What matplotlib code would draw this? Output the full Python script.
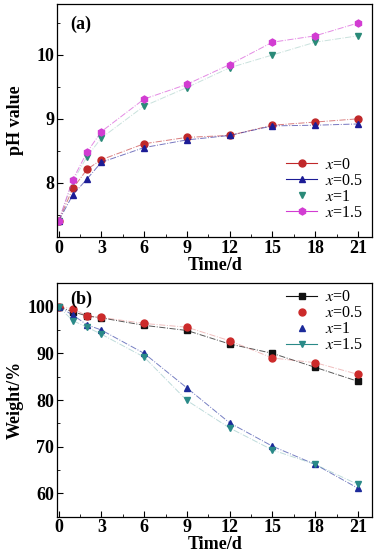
import matplotlib
matplotlib.use("Agg")
import matplotlib.pyplot as plt
from matplotlib.ticker import MultipleLocator

plt.rcParams['font.family'] = ['Liberation Serif', 'DejaVu Serif']
plt.rcParams['mathtext.fontset'] = 'stix'

days = [0, 1, 2, 3, 6, 9, 12, 15, 18, 21]

ph_labels = ['x=0', 'x=0.5', 'x=1', 'x=1.5']
ph_x0 = [7.4, 7.91, 8.21, 8.36, 8.61, 8.71, 8.74, 8.90, 8.95, 9.0]
ph_x05 = [7.4, 7.81, 8.06, 8.32, 8.55, 8.67, 8.74, 8.89, 8.90, 8.92]
ph_x1 = [7.4, 8.02, 8.41, 8.70, 9.20, 9.49, 9.80, 10.0, 10.2, 10.3]
ph_x15 = [7.4, 8.05, 8.48, 8.80, 9.31, 9.54, 9.85, 10.2, 10.3, 10.5]

wt_labels = ['x=0', 'x=0.5', 'x=1', 'x=1.5']
wt_x0 = [100, 98.9, 98.0, 97.6, 96.0, 94.9, 92.0, 90.0, 87.0, 84.0]
wt_x05 = [100, 99.6, 98.0, 97.7, 96.4, 95.6, 92.7, 89.0, 88.0, 85.5]
wt_x1 = [100, 98.2, 96.1, 95.0, 90.0, 82.6, 75.1, 70.1, 66.2, 61.1]
wt_x15 = [100, 97.0, 95.6, 94.1, 89.2, 79.9, 74.0, 69.3, 66.2, 61.9]

xticks = [0, 3, 6, 9, 12, 15, 18, 21]

fig = plt.figure(figsize=(3.81, 5.55), dpi=100)
ax1 = fig.add_axes([0.150, 0.573, 0.827, 0.420])
ax2 = fig.add_axes([0.150, 0.069, 0.827, 0.4205])

def leg_text(s):
    return r'$x$' + s[1:]

MS = 5.0

# top panel
ph_series = [ph_x0, ph_x05, ph_x1, ph_x15]
ph_colors = ['#c0282a', '#1c1c96', '#2a8a78', '#d23cd2']
ph_markers = ['o', '^', 'v', 'h']
ph_line_alpha = [0.6, 0.6, 0.25, 0.6]
for y, c, m, a in zip(ph_series, ph_colors, ph_markers, ph_line_alpha):
    ax1.plot(days, y, color=c, lw=0.7, ls='-.', alpha=a)
    ax1.plot(days, y, ls='none', marker=m, color=c, ms=MS)
handles1 = []
for c, m, a in zip(ph_colors, ph_markers, ph_line_alpha):
    h, = ax1.plot([], [], color=c, marker=m, ms=MS, lw=0.8 if a > 0.3 else 0, alpha=1)
    handles1.append(h)
ax1.legend(handles1, [leg_text(s) for s in ph_labels], loc='lower right',
           bbox_to_anchor=(1.0, 0.028), frameon=False, fontsize=11.5,
           handlelength=1.9, labelspacing=0.0, borderaxespad=0.2, handletextpad=0.5)

ax1.set_xlim(-0.1, 22)
ax1.set_ylim(7.15, 10.8)
ax1.set_ylabel('pH value', fontsize=13, fontweight='bold', labelpad=9)
ax1.set_xlabel('Time/d', fontsize=13, fontweight='bold', labelpad=0)
ax1.text(0.04, 0.95, '(a)', transform=ax1.transAxes, fontsize=13, fontweight='bold', va='top')
ax1.yaxis.set_major_locator(MultipleLocator(1))
ax1.yaxis.set_minor_locator(MultipleLocator(0.5))

# bottom panel
wt_series = [wt_x0, wt_x05, wt_x1, wt_x15]
wt_colors = ['#111111', '#cc2a2a', '#1c2a9a', '#2a8a88']
wt_markers = ['s', 'o', '^', 'v']
wt_line_alpha = [0.7, 0.3, 0.6, 0.3]
for y, c, m, a in zip(wt_series, wt_colors, wt_markers, wt_line_alpha):
    ax2.plot(days, y, color=c, lw=0.7, ls='-.', alpha=a)
    ax2.plot(days, y, ls='none', marker=m, color=c, ms=MS)
handles2 = []
for c, m, lw in zip(wt_colors, wt_markers, [0.8, 0, 0, 0.8]):
    h, = ax2.plot([], [], color=c, marker=m, ms=MS, lw=lw)
    handles2.append(h)
ax2.legend(handles2, [leg_text(s) for s in wt_labels], loc='upper right',
           bbox_to_anchor=(1.0, 1.015), frameon=False, fontsize=11.5,
           handlelength=1.9, labelspacing=0.0,
           borderaxespad=0.2, handletextpad=0.5)

ax2.set_xlim(-0.1, 22)
ax2.set_ylim(55, 105)
ax2.set_ylabel('Weight/%', fontsize=13, fontweight='bold', labelpad=3)
ax2.set_xlabel('Time/d', fontsize=13, fontweight='bold', labelpad=0)
ax2.text(0.04, 0.97, '(b)', transform=ax2.transAxes, fontsize=13, fontweight='bold', va='top')
ax2.yaxis.set_major_locator(MultipleLocator(10))
ax2.yaxis.set_minor_locator(MultipleLocator(5))

for ax in (ax1, ax2):
    ax.set_xticks(xticks)
    ax.xaxis.set_minor_locator(MultipleLocator(1.5))
    ax.tick_params(which='major', direction='in', length=4, width=0.8, labelsize=13, pad=2)
    ax.tick_params(which='minor', direction='in', length=2, width=0.6)
    for lab in ax.get_xticklabels() + ax.get_yticklabels():
        lab.set_fontweight('bold')
    for sp in ax.spines.values():
        sp.set_linewidth(0.9)

fig.savefig('out.png', dpi=100)
